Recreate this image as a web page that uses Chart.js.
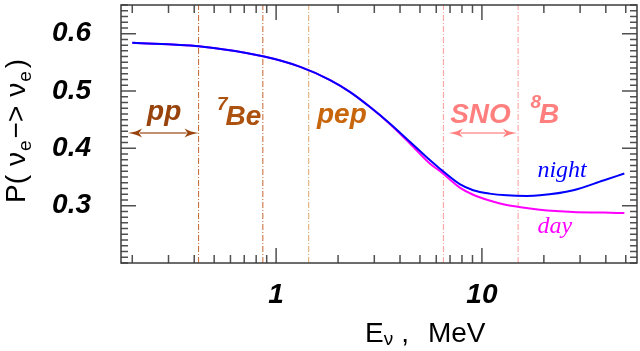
<!DOCTYPE html>
<html>
<head>
<meta charset="utf-8">
<script src="https://cdn.jsdelivr.net/npm/chart.js@4.4.1/dist/chart.umd.min.js"></script>
<style>
html, body { margin: 0; padding: 0; background: #fff; }
#wrap { width: 640px; height: 351px; }
</style>
</head>
<body>
<div id="wrap"><canvas id="probChart" width="640" height="351"></canvas></div>
<script>
// neutrino energy, MeV
var energies = [0.2, 0.42, 0.874, 1.31, 1.83, 2.29, 2.86, 3.58, 4.48, 5.6, 6.27, 7.84, 9.07, 10.9, 13.2, 16.5, 19.1, 27.8, 38.9, 49.2];
// survival probability P(nu_e -> nu_e)
var nightP = [0.584, 0.578, 0.560, 0.542, 0.519, 0.498, 0.472, 0.443, 0.411, 0.379, 0.364, 0.337, 0.327, 0.321, 0.318, 0.317, 0.318, 0.327, 0.344, 0.356];
var dayP   = [0.584, 0.578, 0.560, 0.542, 0.519, 0.498, 0.472, 0.442, 0.408, 0.373, 0.360, 0.331, 0.319, 0.309, 0.301, 0.296, 0.293, 0.289, 0.288, 0.287];

// flux boundaries (vertical dash-dot lines)
var boundaryE = [0.42, 0.862, 1.44, 6.5, 15];
var boundaryColors = ['#c4662e', '#c4662e', '#dfa565', '#ff9c9c', '#ff9c9c'];

// axis ticks
var xMajorTicks = [1, 10];
var xMinorTicks = [0.2, 0.3, 0.4, 0.5, 0.6, 0.7, 0.8, 0.9, 2, 3, 4, 5, 6, 7, 8, 9, 20, 30, 40, 50];
var yMajorTicks = [0.3, 0.4, 0.5, 0.6];
var yMinorTicks = [];
for (var k = 20; k <= 65; k++) {
    if (k % 10 !== 0 || k === 20) yMinorTicks.push(k / 100);
}

var X_MIN = 0.1763, X_MAX = 56.7, Y_MIN = 0.2, Y_MAX = 0.65;

function pts(xs, ys) {
    return xs.map(function(x, i) { return { x: x, y: ys[i] }; });
}

function isMajor(list, v) {
    return list.some(function(m) { return Math.abs(m - v) < 1e-9; });
}

// draw a string made of runs (for subscripts/superscripts)
function drawRuns(ctx, x, y, runs) {
    runs.forEach(function(r) {
        ctx.font = r.font;
        x += r.dx || 0;
        ctx.fillText(r.text, x, y + (r.dy || 0));
        x += ctx.measureText(r.text).width;
    });
}

function drawArrow(ctx, x1, x2, y, shaft, head) {
    var hl = 14, hw = 4.5;
    ctx.strokeStyle = shaft;
    ctx.lineWidth = 2;
    ctx.beginPath();
    ctx.moveTo(x1 + hl - 2, y);
    ctx.lineTo(x2 - hl + 2, y);
    ctx.stroke();
    ctx.fillStyle = head;
    ctx.beginPath();
    ctx.moveTo(x1, y);
    ctx.quadraticCurveTo(x1 + hl * 0.6, y - 1, x1 + hl, y - hw);
    ctx.lineTo(x1 + hl - 3, y);
    ctx.lineTo(x1 + hl, y + hw);
    ctx.quadraticCurveTo(x1 + hl * 0.6, y + 1, x1, y);
    ctx.fill();
    ctx.beginPath();
    ctx.moveTo(x2, y);
    ctx.quadraticCurveTo(x2 - hl * 0.6, y - 1, x2 - hl, y - hw);
    ctx.lineTo(x2 - hl + 3, y);
    ctx.lineTo(x2 - hl, y + hw);
    ctx.quadraticCurveTo(x2 - hl * 0.6, y + 1, x2, y);
    ctx.fill();
}

var decorPlugin = {
    id: 'decor',
    afterDraw: function(chart) {
        var ctx = chart.ctx, a = chart.chartArea;
        var xs = chart.scales.x, ys = chart.scales.y;
        ctx.save();

        // inward ticks on all four sides
        ctx.strokeStyle = '#505050';
        ctx.lineWidth = 1.5;
        ctx.beginPath();
        xs.ticks.forEach(function(t) {
            var px = xs.getPixelForValue(t.value);
            var len = isMajor(xMajorTicks, t.value) ? 15 : 8;
            ctx.moveTo(px, a.bottom); ctx.lineTo(px, a.bottom - len);
            ctx.moveTo(px, a.top); ctx.lineTo(px, a.top + len);
        });
        ys.ticks.forEach(function(t) {
            var py = ys.getPixelForValue(t.value);
            var len = isMajor(yMajorTicks, t.value) ? 15 : 7;
            ctx.moveTo(a.left, py); ctx.lineTo(a.left + len, py);
            ctx.moveTo(a.right, py); ctx.lineTo(a.right - len, py);
        });
        ctx.stroke();

        // frame
        ctx.strokeStyle = '#3c3c3c';
        ctx.lineWidth = 1.5;
        ctx.strokeRect(a.left, a.top, a.right - a.left, a.bottom - a.top);

        // axis titles
        var big = '28px "Liberation Sans", Arial, sans-serif';
        var small = '19px "Liberation Sans", Arial, sans-serif';
        ctx.fillStyle = '#000';
        ctx.textBaseline = 'alphabetic';
        ctx.textAlign = 'left';
        drawRuns(ctx, 365, 342, [
            { text: 'E', font: big },
            { text: 'ν', font: small, dy: 3 },
            { text: ',', font: big, dx: 8 },
            { text: 'MeV', font: big, dx: 19 }
        ]);
        ctx.save();
        ctx.translate(25, 203);
        ctx.rotate(-Math.PI / 2);
        drawRuns(ctx, 0, 0, [
            { text: 'P(', font: big },
            { text: 'ν', font: big, dx: 9 },
            { text: 'e', font: small, dy: 6, dx: 1 },
            { text: '−>', font: big, dx: 2 },
            { text: 'ν', font: big, dx: 9 },
            { text: 'e', font: small, dy: 6, dx: 1 },
            { text: ')', font: big, dx: 3 }
        ]);
        ctx.restore();

        // flux labels
        var lab = 'italic bold 28px "Liberation Sans", Arial, sans-serif';
        var sup = 'italic bold 19px "Liberation Sans", Arial, sans-serif';
        function X(v) { return xs.getPixelForValue(v); }
        function Y(v) { return ys.getPixelForValue(v); }

        ctx.fillStyle = '#97430b';
        ctx.font = lab;
        ctx.fillText('pp', X(0.236), Y(0.4488));
        drawArrow(ctx, X(0.1907), X(0.42), Y(0.4266), '#c09070', '#97430b');

        ctx.fillStyle = '#ad510f';
        drawRuns(ctx, X(0.516), Y(0.44), [
            { text: '7', font: sup, dy: -15 },
            { text: 'Be', font: lab, dx: -2 }
        ]);

        ctx.fillStyle = '#c8660c';
        ctx.font = lab;
        ctx.fillText('pep', X(1.58), Y(0.4435));

        ctx.fillStyle = '#ff7f7f';
        ctx.fillText('SNO', X(7.01), Y(0.4435));
        drawArrow(ctx, X(6.9), X(14.8), Y(0.4266), '#ffb0b0', '#ff7f7f');
        drawRuns(ctx, X(17.2), Y(0.4435), [
            { text: '8', font: sup, dy: -15 },
            { text: 'B', font: lab, dx: -2 }
        ]);

        ctx.font = 'italic 24px "Liberation Serif", "Times New Roman", serif';
        ctx.fillStyle = '#0000ff';
        ctx.fillText('night', X(18.6), Y(0.3494));
        ctx.fillStyle = '#ff00ff';
        ctx.fillText('day', X(18.6), Y(0.2517));

        ctx.restore();
    }
};

var datasets = [
    {
        label: 'night',
        data: pts(energies, nightP),
        borderColor: '#0000ff',
        borderWidth: 2,
        cubicInterpolationMode: 'monotone'
    },
    {
        label: 'day',
        data: pts(energies, dayP),
        borderColor: '#ff00ff',
        borderWidth: 2,
        cubicInterpolationMode: 'monotone'
    }
];
boundaryE.forEach(function(e, i) {
    datasets.push({
        label: 'boundary ' + e,
        data: [{ x: e, y: Y_MIN }, { x: e, y: Y_MAX }],
        borderColor: boundaryColors[i],
        borderWidth: 1,
        borderDash: [6, 2, 1, 2]
    });
});

new Chart(document.getElementById('probChart'), {
    type: 'scatter',
    data: { datasets: datasets },
    options: {
        responsive: false,
        animation: false,
        devicePixelRatio: 1,
        showLine: true,
        elements: { point: { radius: 0 } },
        layout: { padding: { top: 5, right: 3, left: 0, bottom: 0 } },
        plugins: {
            legend: { display: false },
            tooltip: { enabled: false }
        },
        scales: {
            x: {
                type: 'logarithmic',
                min: X_MIN,
                max: X_MAX,
                grid: { display: false, drawTicks: false },
                border: { display: false },
                afterBuildTicks: function(scale) {
                    scale.ticks = xMinorTicks.concat(xMajorTicks).sort(function(a, b) { return a - b; })
                        .map(function(v) { return { value: v }; });
                },
                afterFit: function(scale) {
                    scale.height = 88;
                    scale.paddingLeft = 0;
                    scale.paddingRight = 0;
                },
                ticks: {
                    autoSkip: false,
                    maxRotation: 0,
                    padding: 15,
                    color: '#000',
                    font: { family: '"Liberation Sans", Arial, sans-serif', size: 28, weight: 'bold', style: 'italic' },
                    callback: function(v) { return isMajor(xMajorTicks, v) ? String(v) : ''; }
                }
            },
            y: {
                min: Y_MIN,
                max: Y_MAX,
                grid: { display: false, drawTicks: false },
                border: { display: false },
                afterBuildTicks: function(scale) {
                    scale.ticks = yMinorTicks.concat(yMajorTicks).sort(function(a, b) { return a - b; })
                        .map(function(v) { return { value: v }; });
                },
                afterFit: function(scale) {
                    scale.width = 121;
                    scale.paddingTop = 0;
                    scale.paddingBottom = 0;
                },
                ticks: {
                    autoSkip: false,
                    padding: 30,
                    color: '#000',
                    font: { family: '"Liberation Sans", Arial, sans-serif', size: 28, weight: 'bold', style: 'italic' },
                    callback: function(v) { return isMajor(yMajorTicks, v) ? v.toFixed(1) : ''; }
                }
            }
        }
    },
    plugins: [decorPlugin]
});
</script>
</body>
</html>
